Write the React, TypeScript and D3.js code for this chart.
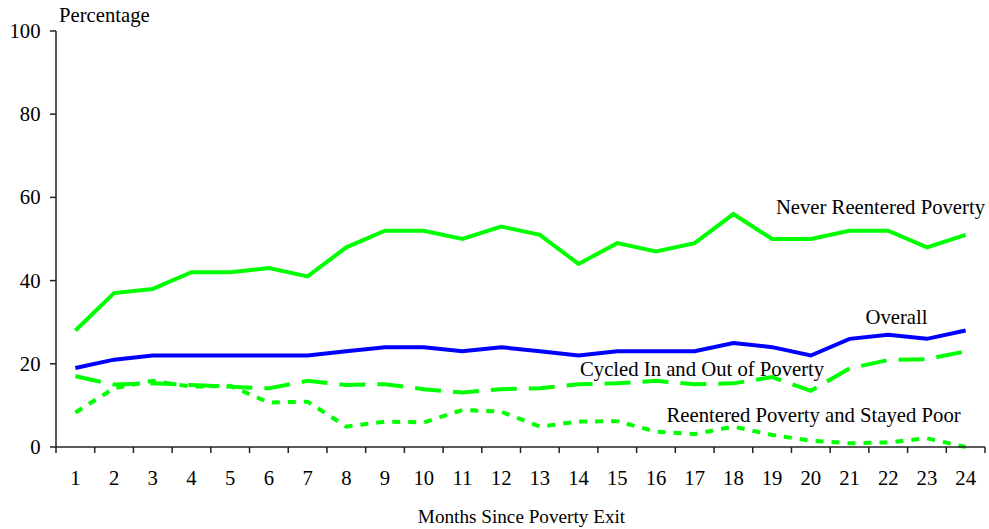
import React from "react";
import * as d3 from "d3";

const months = d3.range(1, 25);
const neverReentered = [28, 37, 38, 42, 42, 43, 41, 48, 52, 52, 50, 53, 51, 44, 49, 47, 49, 56, 50, 50, 52, 52, 48, 51];
const overall = [19, 21, 22, 22, 22, 22, 22, 23, 24, 24, 23, 24, 23, 22, 23, 23, 23, 25, 24, 22, 26, 27, 26, 28];
const cycled = [17, 15, 15.3, 14.9, 14.5, 14.1, 15.9, 14.9, 15.1, 13.9, 13.1, 13.9, 14.1, 15.1, 15.3, 15.9, 15.1, 15.3, 16.8, 13.5, 18.9, 20.9, 21.1, 23];
const stayedPoor = [8.3, 14.1, 15.9, 14.5, 14.7, 10.7, 10.9, 4.9, 6.1, 5.9, 8.9, 8.5, 4.9, 6.1, 6.2, 3.7, 3.1, 4.9, 2.9, 1.5, 0.9, 1.1, 2.1, 0];
const yTicks = [0, 20, 40, 60, 80, 100];

const W = 989, H = 529;
const left = 56, right = 985, top = 31, bottom = 447;
const FONT = "Liberation Serif, DejaVu Serif, serif";

export default function App() {
  const x = d3.scaleBand<number>().domain(months).range([left, right]);
  const y = d3.scaleLinear().domain([0, 100]).range([bottom, top]);
  const line = d3.line<number>()
    .x((_, i) => (x(months[i]) as number) + x.bandwidth() / 2)
    .y((d) => y(d));
  const boundaries = d3.range(0, 25).map((i) => left + i * x.step());

  const series = [
    { data: neverReentered, color: "#00FF00", dash: undefined },
    { data: cycled, color: "#00FF00", dash: "26 12" },
    { data: stayedPoor, color: "#00FF00", dash: "8 8" },
    { data: overall, color: "#0000FF", dash: undefined },
  ];
  const ts: React.CSSProperties = { fontFamily: FONT, fontSize: 20.7 };
  const tt: React.CSSProperties = { fontFamily: FONT, fontSize: 19.2 };

  return (
    <svg width={W} height={H} style={{ position: "absolute", left: 0, top: 0 }}>
      <rect width={W} height={H} fill="#fff" />
      {series.map((s, i) => (
        <path key={i} d={line(s.data) || ""} fill="none" stroke={s.color} strokeWidth={4}
          strokeDasharray={s.dash} strokeLinejoin="miter" />
      ))}
      <line x1={left} x2={left} y1={top} y2={bottom} stroke="#222" strokeWidth={1.5} />
      {yTicks.map((t) => (
        <g key={t}>
          <line x1={left - 6} x2={left} y1={y(t)} y2={y(t)} stroke="#222" strokeWidth={1.5} />
          <text x={40.5} y={y(t) + 7} textAnchor="end" style={ts} fill="#000">{t}</text>
        </g>
      ))}
      <line x1={left} x2={right} y1={bottom} y2={bottom} stroke="#222" strokeWidth={1.5} />
      {boundaries.map((b, i) => (
        <line key={i} x1={b} x2={b} y1={bottom} y2={bottom + 6} stroke="#222" strokeWidth={1.5} />
      ))}
      {months.map((m) => (
        <text key={m} x={(x(m) as number) + x.bandwidth() / 2} y={485} textAnchor="middle" style={ts} fill="#000">{m}</text>
      ))}
      <text x={59} y={22} style={ts} fill="#000">Percentage</text>
      <text x={521.5} y={523} textAnchor="middle" style={tt} fill="#000">Months Since Poverty Exit</text>
      <text x={985} y={214} textAnchor="end" style={ts} fill="#000">Never Reentered Poverty</text>
      <text x={865.5} y={324} style={ts} fill="#000">Overall</text>
      <text x={580} y={376} style={ts} fill="#000">Cycled In and Out of Poverty</text>
      <text x={666.5} y={422} style={ts} fill="#000">Reentered Poverty and Stayed Poor</text>
    </svg>
  );
}
